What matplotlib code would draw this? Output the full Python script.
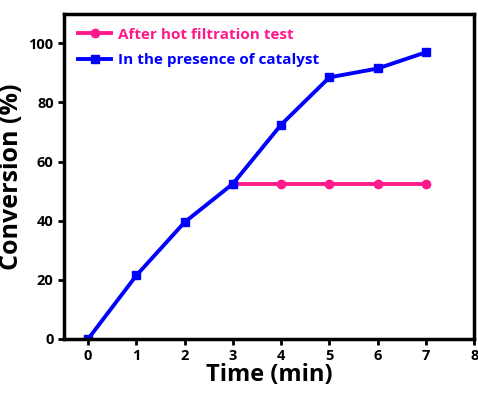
import matplotlib.pyplot as plt

time_all = [0, 1, 2, 3, 4, 5, 6, 7]
conv_catalyst = [0, 21.5, 39.5, 52.5, 72.5, 88.5, 91.5, 97]
time_hot = [3, 4, 5, 6, 7]
conv_hot = [52.5, 52.5, 52.5, 52.5, 52.5]

plt.rcParams['font.family'] = ['Open Sans', 'DejaVu Sans']
plt.rcParams['font.weight'] = 'bold'

fig = plt.figure(figsize=(4.78, 3.95), dpi=100)
ax = fig.add_axes([0.134, 0.142, 0.858, 0.823])

ax.plot(time_hot, conv_hot, color='#ff1a8c', lw=2.8, marker='o', ms=6,
        label='After hot filtration test')
ax.plot(time_all, conv_catalyst, color='#0000ff', lw=2.8, marker='s', ms=6,
        label='In the presence of catalyst')

ax.set_xlim(-0.5, 8)
ax.set_ylim(0, 110)
ax.set_xticks(range(0, 9))
ax.set_yticks(range(0, 101, 20))
for s in ax.spines.values():
    s.set_linewidth(2.5)
ax.tick_params(width=2, length=4, labelsize=10.5)
for lab in ax.get_xticklabels() + ax.get_yticklabels():
    lab.set_fontweight('bold')

ax.set_xlabel('Time (min)', fontsize=17, fontweight='bold', labelpad=0)
ax.set_ylabel('Conversion (%)', fontsize=18, fontweight='bold', labelpad=3)

ax.legend(loc='upper left', frameon=False, labelcolor='linecolor',
          prop={'weight': 'bold', 'size': 11}, handlelength=2.2,
          borderaxespad=0.5, handletextpad=0.4, labelspacing=0.75)

fig.savefig('out.png', dpi=100)
